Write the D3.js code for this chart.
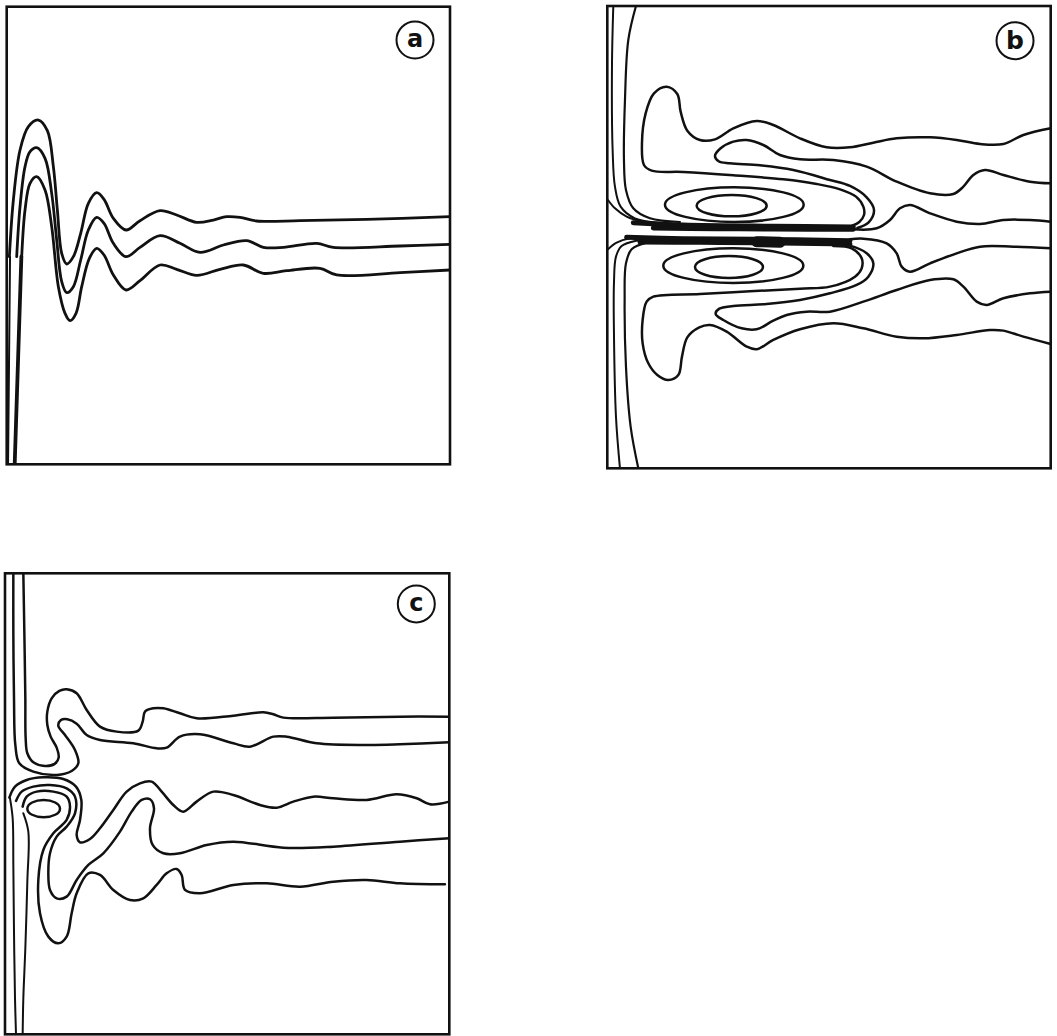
<!DOCTYPE html>
<html>
<head>
<meta charset="utf-8">
<script src="https://cdn.jsdelivr.net/npm/d3@7"></script>
<style>
  html, body { margin: 0; padding: 0; background: #fff; }
  svg { display: block; }
</style>
</head>
<body>
<svg id="chart" width="1057" height="1036"></svg>
<script>
// ---------------- DATA (contour traces, in panel units) ----------------
const panelLabels = ["a", "b", "c"];

// Panel (a)
const aWallThin  = [[24,1393],[30,770]];
const aWallThick = [[44,1393],[64,770]];
const aOuter  = [[28,770],[40,600],[60,450],[85,380],[115,360],[142,392],[160,500],[172,630],[185,760],[200,792],[220,770],[242,700],[265,610],[290,578],[312,598],[340,655],[378,690],[420,662],[480,632],[530,645],[590,667],[640,660],[680,650],[720,652],[770,663],[900,662],[1100,658],[1350,650]];
const aMiddle = [[50,770],[60,620],[75,500],[90,455],[110,443],[135,475],[155,580],[170,720],[185,845],[200,878],[220,860],[242,780],[265,690],[290,652],[312,670],[340,730],[378,770],[420,742],[480,707],[540,730],[600,757],[670,735],[740,722],[790,742],[850,742],[950,730],[1000,742],[1200,738],[1350,733]];
const aInner  = [[65,770],[75,630],[90,550],[110,530],[135,570],[155,680],[175,860],[195,940],[210,962],[228,940],[245,860],[268,775],[290,745],[312,765],[340,825],[378,870],[420,842],[480,795],[530,808],[590,826],[660,808],[730,795],[790,820],[860,812],[960,805],[1010,825],[1200,818],[1350,810]];

// Panel (b)
const bWallT0 = [[24,600],[45,625],[80,650],[130,665],[220,674]];
const bWallT1 = [[40,18],[36,200],[38,450],[45,560],[62,620],[105,655],[200,670],[330,676]];
const bWallT2 = [[108,18],[85,120],[75,300],[72,480],[78,570],[100,625],[150,655],[240,666]];
const bWallB0 = [[24,748],[50,728],[90,715],[150,711],[220,712]];
const bWallB1 = [[60,1405],[48,1250],[42,1000],[42,850],[48,770],[65,738],[110,722],[200,716],[330,716]];
const bWallB2 = [[115,1405],[92,1280],[78,1100],[74,900],[78,790],[95,748],[140,728],[240,722]];
const bBandU1 = [[100,668],[250,675],[520,679],[760,681]];
const bBandU2 = [[160,684],[350,686],[520,687],[760,688]];
const bBandL1 = [[80,712],[250,716],[470,718],[750,722]];
const bBandL2 = [[120,726],[300,727],[470,728],[750,732]];
const bBlob   = [[470,725],[540,727]];
const bLobeUp = [[1352,385],[1270,405],[1210,432],[1140,432],[1070,420],[990,412],[890,415],[820,428],[750,442],[680,442],[600,415],[520,375],[470,363],[400,385],[345,418],[300,420],[262,392],[242,335],[232,282],[200,260],[162,280],[137,340],[126,430],[132,495],[155,512],[250,516],[400,526],[550,538],[650,552],[720,568],[768,590],[790,620],[792,645],[778,666],[755,678]];
const bTongueUp = [[1352,550],[1290,545],[1210,525],[1155,510],[1120,525],[1090,560],[1060,582],[990,580],[890,545],[800,500],[700,480],[600,478],[540,465],[490,435],[440,420],[400,425],[362,445],[345,468],[356,484],[390,490],[480,496],[580,510],[690,540],[750,558],[800,592],[822,630],[806,667],[772,684]];
const bWakeUp = [[760,688],[830,685],[870,660],[900,625],[930,615],[990,640],[1070,665],[1140,672],[1210,660],[1290,660],[1352,665]];
const bWakeLow = [[750,718],[790,716],[860,730],[890,760],[905,800],[930,815],[990,790],[1070,760],[1140,740],[1240,740],[1352,745]];
const bTongueLow = [[1352,875],[1290,880],[1210,895],[1160,915],[1130,905],[1090,860],[1060,838],[990,840],[890,870],[790,905],[690,935],[620,935],[560,945],[520,962],[470,988],[425,985],[370,960],[347,942],[358,926],[400,918],[500,912],[600,900],[690,880],[770,855],[805,830],[820,790],[800,760],[750,737],[700,731]];
const bLobeLow = [[1352,1032],[1270,1010],[1210,992],[1170,990],[1070,1005],[970,1015],[890,1010],[790,985],[700,970],[600,988],[520,1020],[470,1048],[440,1040],[380,995],[330,975],[298,982],[262,1012],[246,1070],[235,1125],[205,1140],[172,1125],[145,1090],[128,1030],[128,960],[140,905],[160,890],[300,882],[450,874],[600,866],[690,860],[765,830],[785,805],[785,775],[755,745],[700,738]];
// ellipses: [cx, cy, rx, ry]
const bEddies = [[403,614,208,52],[395,617,105,32],[400,797,210,52],[387,801,102,33]];

// Panel (c)
const cWallTop = [[40,25],[40,200],[42,400],[46,540],[58,595],[100,620],[170,630],[215,618],[235,595],[225,555],[195,510],[175,483],[182,466],[202,463],[230,476],[260,510],[300,525],[400,535],[470,550],[500,548],[540,515],[600,508],[700,535],[750,545],[820,515],[860,515],[950,535],[1100,540],[1200,538],[1348,532]];
const cSCurve = [[70,25],[73,200],[76,400],[77,520],[82,565],[100,592],[135,603],[165,596],[176,578],[170,548],[152,515],[142,480],[142,440],[155,400],[178,378],[200,373],[230,385],[260,435],[300,485],[350,500],[415,497],[428,470],[435,440],[460,430],[490,430],[540,445],[590,460],[700,452],[790,442],[820,448],[850,458],[1000,458],[1200,455],[1348,455]];
const cArc1 = [[28,698],[45,665],[80,645],[130,637],[190,642],[228,665],[244,705],[240,765],[230,810],[240,832],[270,822],[300,790],[340,735],[380,680],[420,655],[455,650],[485,680],[520,720],[550,740],[590,710],[640,680],[700,690],[780,720],[830,728],[880,710],[940,695],[1000,700],[1100,705],[1190,688],[1250,700],[1290,718],[1348,710]];
const cArc2 = [[48,708],[65,680],[100,665],[150,660],[200,670],[225,695],[225,745],[200,785],[170,815],[150,865],[145,925],[150,975],[170,1000],[200,995],[230,945],[265,900],[310,865],[360,800],[395,740],[425,705],[450,703],[462,730],[450,790],[458,840],[490,865],[540,865],[620,840],[700,830],[850,848],[1000,845],[1200,830],[1348,820]];
const cArc3 = [[68,725],[80,695],[110,680],[160,680],[200,695],[210,725],[200,765],[160,805],[130,855],[115,945],[120,1045],[145,1115],[175,1135],[200,1115],[215,1045],[230,985],[265,925],[300,930],[340,975],[390,1005],[430,1000],[470,960],[500,925],[530,912],[545,930],[555,975],[600,985],[700,960],[800,955],[900,965],[1000,950],[1100,945],[1200,955],[1335,958]];
const cWallLow1 = [[30,700],[38,760],[40,900],[42,1100],[45,1300],[48,1408]];
const cWallLow2 = [[70,745],[85,800],[82,950],[76,1150],[70,1300],[68,1408]];
const cEddy = [[131,731,49,26]];

// ---------------- LAYOUT ----------------
const layout = {
  a: { dom: [20, 1350, 20, 1393], px: [6.7, 450, 6.7, 464.3], label: [1245, 120] },
  b: { dom: [22, 1352, 18, 1405], px: [607.3, 1050.7, 6, 468.3], label: [1245, 122] },
  c: { dom: [15, 1348, 25, 1408], px: [5, 449.3, 573.3, 1034.3], label: [1249, 117] }
};

const panelLines = {
  a: [
    { d: aWallThin, w: 2 }, { d: aWallThick, w: 3.8, linear: true },
    { d: aOuter, w: 2.8 }, { d: aMiddle, w: 2.8 }, { d: aInner, w: 2.8 }
  ],
  b: [
    { d: bWallT0, w: 2 }, { d: bWallT1, w: 2 }, { d: bWallT2, w: 2.2 },
    { d: bWallB0, w: 2 }, { d: bWallB1, w: 2 }, { d: bWallB2, w: 2.2 },
    { d: bBandU1, w: 5 }, { d: bBandU2, w: 5 }, { d: bBandL1, w: 5 }, { d: bBandL2, w: 5 },
    { d: bBlob, w: 11, linear: true },
    { d: bLobeUp, w: 2.5 }, { d: bTongueUp, w: 2.5 }, { d: bWakeUp, w: 2.5 },
    { d: bWakeLow, w: 2.5 }, { d: bTongueLow, w: 2.5 }, { d: bLobeLow, w: 2.5 }
  ],
  c: [
    { d: cWallTop, w: 2.5 }, { d: cSCurve, w: 2.5 }, { d: cArc1, w: 2.5 }, { d: cArc2, w: 2.5 },
    { d: cArc3, w: 2.5 }, { d: cWallLow1, w: 2 }, { d: cWallLow2, w: 2 }
  ]
};
const panelEllipses = { a: [], b: bEddies, c: cEddy };

// ---------------- DRAW ----------------
const svg = d3.select("#chart");
svg.append("rect").attr("width", 1057).attr("height", 1036).attr("fill", "#fff");

panelLabels.forEach(key => {
  const cfg = layout[key];
  const x = d3.scaleLinear().domain([cfg.dom[0], cfg.dom[1]]).range([cfg.px[0], cfg.px[1]]);
  const y = d3.scaleLinear().domain([cfg.dom[2], cfg.dom[3]]).range([cfg.px[2], cfg.px[3]]);
  const g = svg.append("g").attr("class", "panel-" + key);

  const clipId = "clip-" + key;
  g.append("clipPath").attr("id", clipId)
    .append("rect")
    .attr("x", x(cfg.dom[0])).attr("y", y(cfg.dom[2]))
    .attr("width", x(cfg.dom[1]) - x(cfg.dom[0]))
    .attr("height", y(cfg.dom[3]) - y(cfg.dom[2]));

  const inner = g.append("g").attr("clip-path", `url(#${clipId})`);

  const smooth = d3.line().x(d => x(d[0])).y(d => y(d[1])).curve(d3.curveCatmullRom.alpha(0.5));
  const straight = d3.line().x(d => x(d[0])).y(d => y(d[1]));

  inner.selectAll("path.contour")
    .data(panelLines[key])
    .join("path")
    .attr("class", "contour")
    .attr("d", l => (l.linear ? straight : smooth)(l.d))
    .attr("fill", "none")
    .attr("stroke", "#111")
    .attr("stroke-width", l => l.w)
    .attr("stroke-linecap", "round")
    .attr("stroke-linejoin", "round");

  inner.selectAll("ellipse.eddy")
    .data(panelEllipses[key])
    .join("ellipse")
    .attr("class", "eddy")
    .attr("cx", d => x(d[0]))
    .attr("cy", d => y(d[1]))
    .attr("rx", d => x(d[0] + d[2]) - x(d[0]))
    .attr("ry", d => y(d[1] + d[3]) - y(d[1]))
    .attr("fill", "none")
    .attr("stroke", "#111")
    .attr("stroke-width", 2.5);

  // frame
  g.append("rect")
    .attr("x", x(cfg.dom[0])).attr("y", y(cfg.dom[2]))
    .attr("width", x(cfg.dom[1]) - x(cfg.dom[0]))
    .attr("height", y(cfg.dom[3]) - y(cfg.dom[2]))
    .attr("fill", "none")
    .attr("stroke", "#111")
    .attr("stroke-width", 2.6);

  // circled label
  const lx = x(cfg.label[0]), ly = y(cfg.label[1]);
  g.append("circle").attr("cx", lx).attr("cy", ly).attr("r", 18.5)
    .attr("fill", "none").attr("stroke", "#111").attr("stroke-width", 2);
  g.append("text").attr("x", lx).attr("y", ly)
    .attr("text-anchor", "middle").attr("dominant-baseline", "central")
    .attr("font-family", "DejaVu Sans, sans-serif")
    .attr("font-weight", "bold")
    .attr("font-size", key === "b" ? 25 : 24)
    .attr("fill", "#111")
    .attr("dy", key === "b" ? "-0.02em" : "-0.06em")
    .text(key);
});
</script>
</body>
</html>
